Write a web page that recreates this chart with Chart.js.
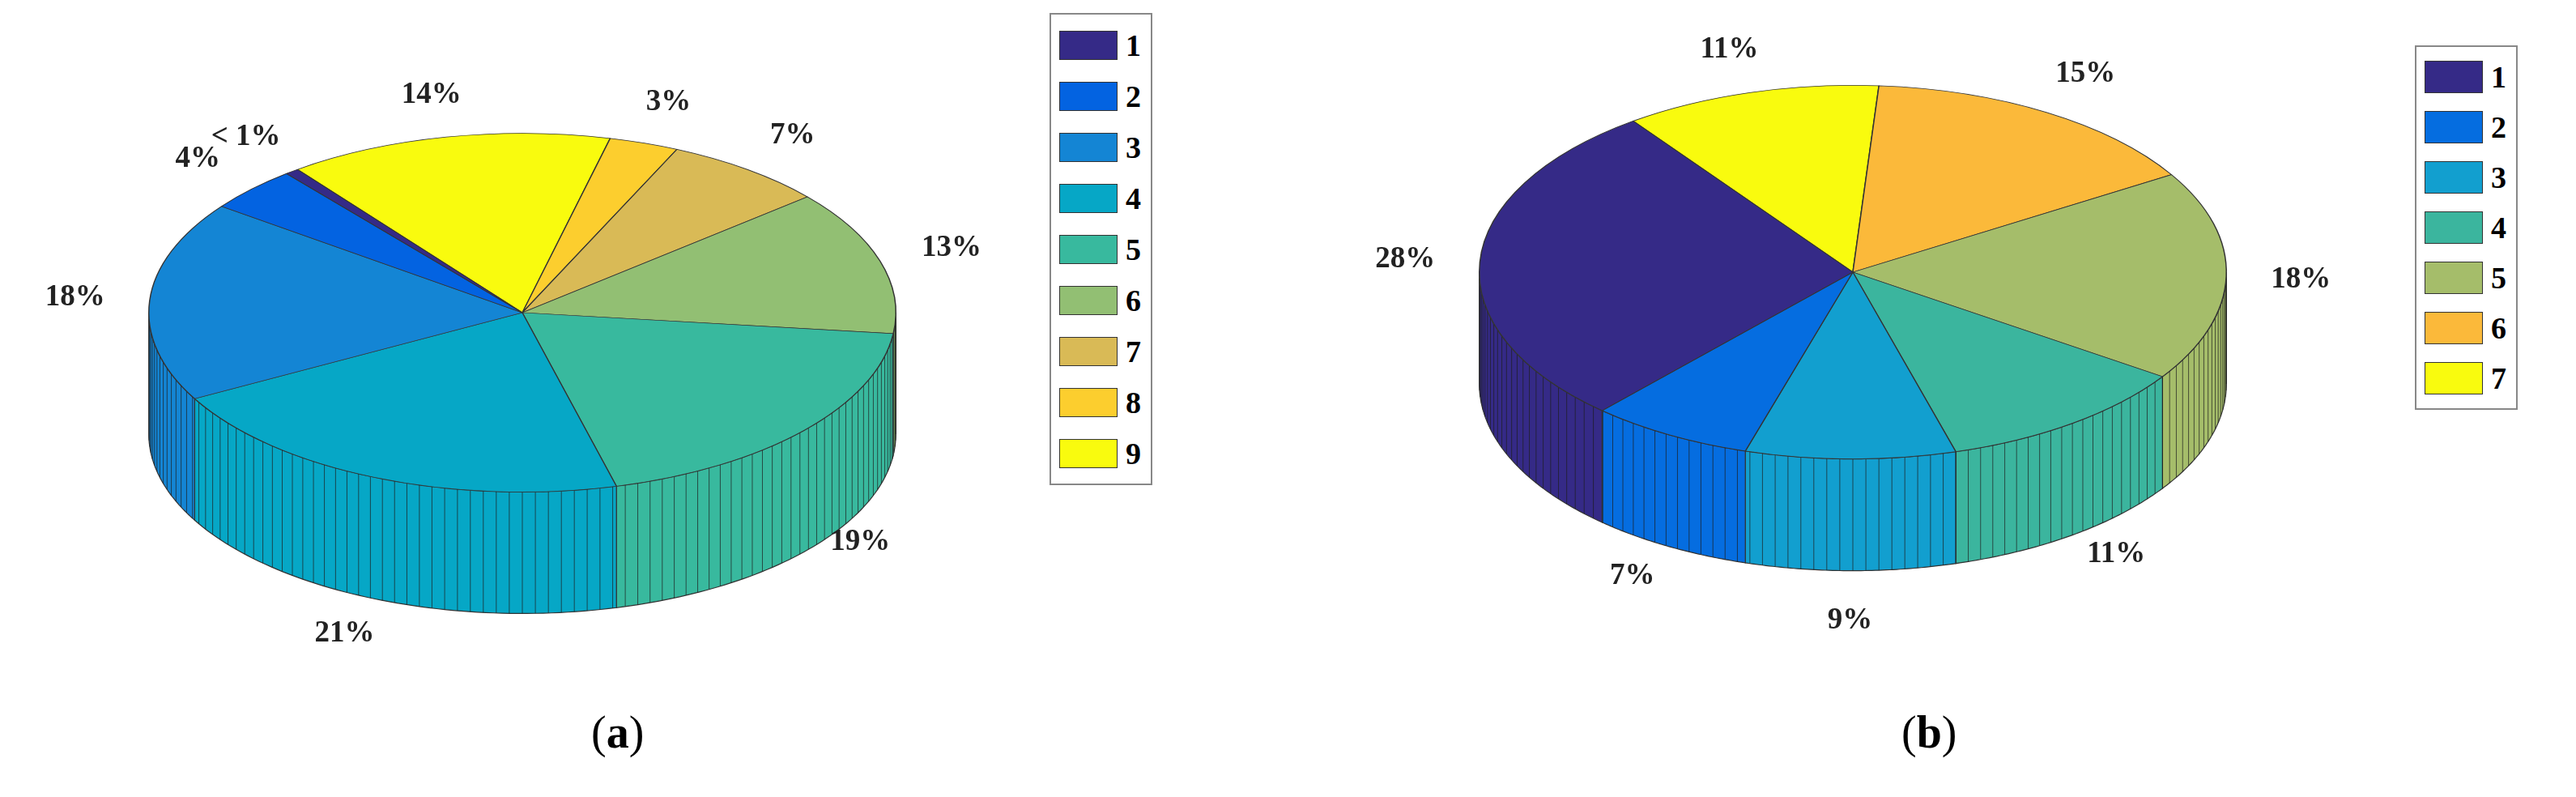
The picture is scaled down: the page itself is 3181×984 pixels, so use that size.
<!DOCTYPE html>
<html lang="en">
<head>
<meta charset="UTF-8">
<title>3D pie charts</title>
<script src="https://cdn.jsdelivr.net/npm/chart.js"></script>
<style>
  body { margin: 0; width: 3181px; height: 984px; background: #fff; position: relative; overflow: hidden;
         font-family: "Liberation Serif", "DejaVu Serif", serif; }
  canvas { position: absolute; top: 0; }
  .legend { position: absolute; border: 2px solid #888; background: #fff; padding: 6px 12px 6px 10px; }
  .legend div { display: flex; align-items: center; font-weight: bold; font-size: 38px; }
  .legend span.sw { display: inline-block; border: 1px solid #333; margin-right: 10px; }
  .cap { position: absolute; font-size: 56px; top: 872px; }
</style>
</head>
<body>
<canvas id="pieA" width="1290" height="984" style="left:0px"></canvas>
<canvas id="pieB" width="1272" height="984" style="left:1652px"></canvas>
<div class="legend" id="legA" style="left:1296px; top:16px;"></div>
<div class="legend" id="legB" style="left:2982px; top:56px;"></div>
<div class="cap" style="left:730px">(<b>a</b>)</div>
<div class="cap" style="left:2348px">(<b>b</b>)</div>
<script>
// chart (a)
const labelsA = ['1', '2', '3', '4', '5', '6', '7', '8', '9'];
const valuesA = [0.6, 4, 18, 21, 19, 13, 7, 3, 14];
const textA = ['< 1%', '4%', '18%', '21%', '19%', '13%', '7%', '3%', '14%'];
const colorsA = ['#352a87', '#0363e1', '#1485d4', '#06a7c6', '#38b99e', '#92bf73', '#d9ba56', '#fcce2e', '#f9fb0e'];

// chart (b)
const labelsB = ['1', '2', '3', '4', '5', '6', '7'];
const valuesB = [28, 7, 9, 11, 18, 15, 11];
const textB = ['28%', '7%', '9%', '11%', '18%', '15%', '11%'];
const colorsB = ['#352a87', '#056de0', '#129fcf', '#3bb59e', '#a5bd6a', '#fbb93a', '#f9fb0e'];

function rev(a) { return a.slice().reverse(); }

// squash the pie into an ellipse and draw the visible side wall
const pie3d = {
  id: 'pie3d',
  beforeDatasetsDraw(chart, args, o) {
    const ctx = chart.ctx;
    const arcs = chart.getDatasetMeta(0).data;
    const cx = arcs[0].x;
    const k = o.k, cy = o.cy, depth = o.depth;
    arcs.forEach((arc, i) => {
      const p = arc.getProps(['startAngle', 'endAngle', 'outerRadius'], true);
      const R = p.outerRadius;
      const color = chart.data.datasets[0].backgroundColor[i];
      for (let shift = -2 * Math.PI; shift <= 2 * Math.PI; shift += 2 * Math.PI) {
        const a = Math.max(p.startAngle + shift, 0);
        const b = Math.min(p.endAngle + shift, Math.PI);
        if (b <= a) continue;
        const n = 60;
        ctx.beginPath();
        for (let j = 0; j <= n; j++) {
          const t = a + (b - a) * j / n;
          ctx.lineTo(cx + R * Math.cos(t), cy + R * k * Math.sin(t));
        }
        for (let j = n; j >= 0; j--) {
          const t = a + (b - a) * j / n;
          ctx.lineTo(cx + R * Math.cos(t), cy + R * k * Math.sin(t) + depth);
        }
        ctx.closePath();
        ctx.fillStyle = color;
        ctx.fill();
        ctx.strokeStyle = '#333';
        ctx.lineWidth = 1.2;
        ctx.stroke();
        // facet lines
        ctx.beginPath();
        const step = Math.PI / 90;
        for (let t = Math.ceil(a / step) * step; t < b; t += step) {
          const x = cx + R * Math.cos(t), y = cy + R * k * Math.sin(t);
          ctx.moveTo(x, y); ctx.lineTo(x, y + depth);
        }
        ctx.strokeStyle = 'rgba(30,30,30,0.7)';
        ctx.lineWidth = 1;
        ctx.stroke();
      }
    });
    ctx.save();
    ctx.translate(0, cy);
    ctx.scale(1, k);
    ctx.translate(0, -arcs[0].y);
  },
  afterDatasetsDraw(chart, args, o) {
    chart.ctx.restore();
    const ctx = chart.ctx;
    const arcs = chart.getDatasetMeta(0).data;
    ctx.font = 'bold 37px "Liberation Serif", serif';
    ctx.fillStyle = '#222';
    ctx.textAlign = 'center';
    ctx.textBaseline = 'middle';
    arcs.forEach((arc, i) => {
      const p = arc.getProps(['startAngle', 'endAngle', 'outerRadius', 'x'], true);
      const m = (p.startAngle + p.endAngle) / 2;
      const R = p.outerRadius;
      const s = Math.sin(m);
      const x = p.x + R * 1.2 * Math.cos(m);
      const y = o.cy + R * o.k * 1.24 * s + (s > 0 ? o.depth * 1.05 * s : 0);
      ctx.fillText(o.texts[i], x, y);
    });
  }
};

function makePie(id, labels, values, colors, texts, rotation, k, cy, depth) {
  new Chart(document.getElementById(id), {
    type: 'pie',
    data: {
      labels: rev(labels),
      datasets: [{ data: rev(values), backgroundColor: rev(colors), borderColor: '#333', borderWidth: 1.5 }]
    },
    options: {
      responsive: false,
      animation: false,
      rotation: rotation,
      layout: { padding: { top: 30, bottom: 30 } },
      plugins: {
        legend: { display: false },
        tooltip: { enabled: false },
        pie3d: { k: k, cy: cy, depth: depth, texts: rev(texts) }
      }
    },
    plugins: [pie3d]
  });
}

function makeLegend(id, labels, colors, rowH, swW, swH) {
  const el = document.getElementById(id);
  labels.forEach((l, i) => {
    const d = document.createElement('div');
    d.style.height = rowH + 'px';
    d.innerHTML = '<span class="sw" style="width:' + swW + 'px;height:' + swH + 'px;background:' + colors[i] + '"></span>' + l;
    el.appendChild(d);
  });
}

makePie('pieA', labelsA, valuesA, colorsA, textA, -37, 0.48, 386, 150);
makePie('pieB', labelsB, valuesB, colorsB, textB, -36, 0.5, 336, 138);
makeLegend('legA', labelsA, colorsA, 63, 70, 34);
makeLegend('legB', labelsB, colorsB, 62, 70, 38);
</script>
</body>
</html>
